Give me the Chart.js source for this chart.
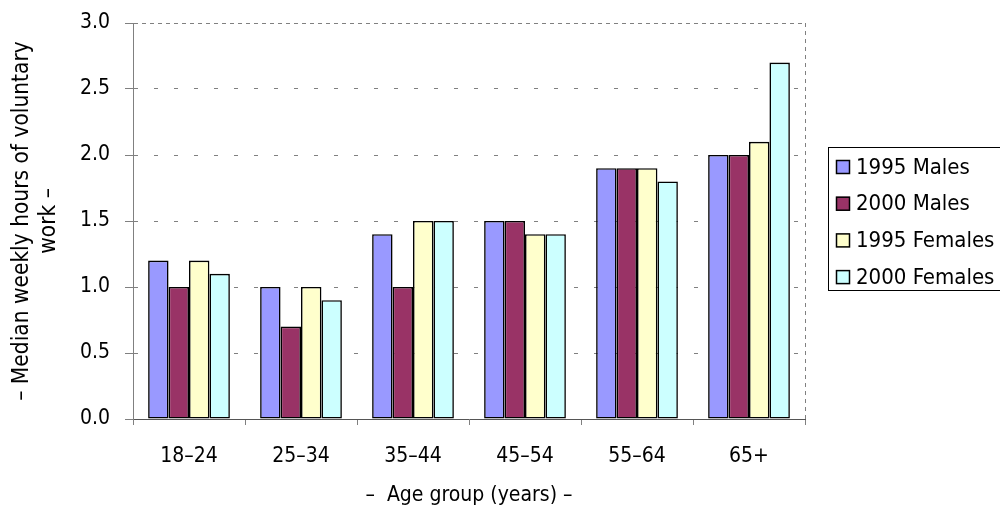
<!DOCTYPE html>
<html>
<head>
<meta charset="utf-8">
<script src="https://cdn.jsdelivr.net/npm/chart.js@4/dist/chart.umd.min.js"></script>
<style>
  html, body { margin: 0; padding: 0; background: #fff; }
  #wrap { width: 1000px; height: 505px; position: relative; }
</style>
</head>
<body>
<div id="wrap"><canvas id="c" width="1000" height="505"></canvas></div>
<script>
// Age groups on the horizontal axis
const ageGroups = ['18–24', '25–34', '35–44', '45–54', '55–64', '65+'];

// Median weekly hours of voluntary work per series
const males1995   = [1.2, 1.0, 1.4, 1.5, 1.9, 2.0];
const males2000   = [1.0, 0.7, 1.0, 1.5, 1.9, 2.0];
const females1995 = [1.2, 1.0, 1.5, 1.4, 1.9, 2.1];
const females2000 = [1.1, 0.9, 1.5, 1.4, 1.8, 2.7];

const seriesNames  = ['1995 Males', '2000 Males', '1995 Females', '2000 Females'];
const seriesColors = ['#9999FF', '#993366', '#FFFFCC', '#CCFFFF'];

const yTicks = [0, 0.5, 1.0, 1.5, 2.0, 2.5, 3.0];

const FONT = '"DejaVu Sans Condensed", "DejaVu Sans", sans-serif';

// Dashed frame on the right of the plot area
const frame = {
  id: 'frame',
  beforeDatasetsDraw(chart) {
    const { ctx, chartArea: a } = chart;
    ctx.save();
    ctx.strokeStyle = '#808080';
    ctx.lineWidth = 1;
    ctx.setLineDash([4, 4]);
    ctx.beginPath();
    ctx.moveTo(Math.round(a.right) + 0.5, a.top);
    ctx.lineTo(Math.round(a.right) + 0.5, a.bottom);
    ctx.stroke();
    ctx.restore();
  }
};

// Boxed legend to the right of the plot
const boxedLegend = {
  id: 'boxedLegend',
  afterDraw(chart) {
    const { ctx } = chart;
    const x0 = 828, y0 = 147, w = 190, h = 143;
    ctx.save();
    ctx.fillStyle = '#fff';
    ctx.fillRect(x0, y0, w, h);
    ctx.strokeStyle = '#000';
    ctx.lineWidth = 1;
    ctx.strokeRect(x0 + 0.5, y0 + 0.5, w, h);
    ctx.font = '22px ' + FONT;
    ctx.textBaseline = 'middle';
    ctx.textAlign = 'left';
    chart.data.datasets.forEach((ds, i) => {
      const cy = y0 + 20 + i * 36.7;
      ctx.fillStyle = ds.backgroundColor;
      ctx.fillRect(836, cy - 7, 14, 14);
      ctx.strokeStyle = '#000';
      ctx.lineWidth = 1.5;
      ctx.strokeRect(836.5, cy - 6.5, 13, 13);
      ctx.fillStyle = '#000';
      ctx.fillText(ds.label, 856, cy + 1);
    });
    ctx.restore();
  }
};

const values = [males1995, males2000, females1995, females2000];

new Chart(document.getElementById('c'), {
  type: 'bar',
  data: {
    labels: ageGroups,
    datasets: values.map((v, i) => ({
      label: seriesNames[i],
      data: v,
      backgroundColor: seriesColors[i],
      borderColor: '#000',
      borderWidth: 1.6,
      borderSkipped: false,
      categoryPercentage: 0.73,
      barPercentage: 1.0
    }))
  },
  options: {
    responsive: false,
    animation: false,
    devicePixelRatio: 1,
    layout: { padding: { top: 23, right: 195, left: 0, bottom: 0 } },
    plugins: {
      legend: { display: false },
      tooltip: { enabled: false }
    },
    scales: {
      x: {
        grid: {
          display: true,
          offset: true,
          drawOnChartArea: false,
          tickLength: 6,
          tickColor: '#808080',
          color: '#808080'
        },
        border: { display: true, color: '#555', width: 1 },
        ticks: { color: '#000', font: { family: FONT, size: 21 }, padding: 19 },
        title: {
          display: true,
          text: '–  Age group (years) –',
          color: '#000',
          font: { family: FONT, size: 21 },
          padding: { top: 0, bottom: -3 }
        },
        afterFit(scale) {
          scale.height = 86;
          scale.paddingLeft = 0;
          scale.paddingRight = 0;
        }
      },
      y: {
        min: 0,
        max: 3,
        afterBuildTicks(scale) { scale.ticks = yTicks.map(v => ({ value: v })); },
        grid: {
          color: '#808080',
          tickColor: '#808080',
          tickLength: 8,
          lineWidth: 1
        },
        border: {
          display: true,
          color: '#808080',
          width: 1,
          dash: (c) => (c.tick && c.tick.value === 3 ? [4, 4] : [4, 16])
        },
        ticks: {
          color: '#000',
          font: { family: FONT, size: 21 },
          padding: 15,
          callback: (v) => Number(v).toFixed(1)
        },
        title: {
          display: true,
          text: ['– Median weekly hours of voluntary', 'work –'],
          color: '#000',
          font: { family: FONT, size: 22.5, lineHeight: 1.2 },
          padding: { top: 9, bottom: 0 }
        },
        afterFit(scale) {
          scale.width = 133;
          scale.paddingTop = 0;
          scale.paddingBottom = 0;
        }
      }
    }
  },
  plugins: [frame, boxedLegend]
});
</script>
</body>
</html>
